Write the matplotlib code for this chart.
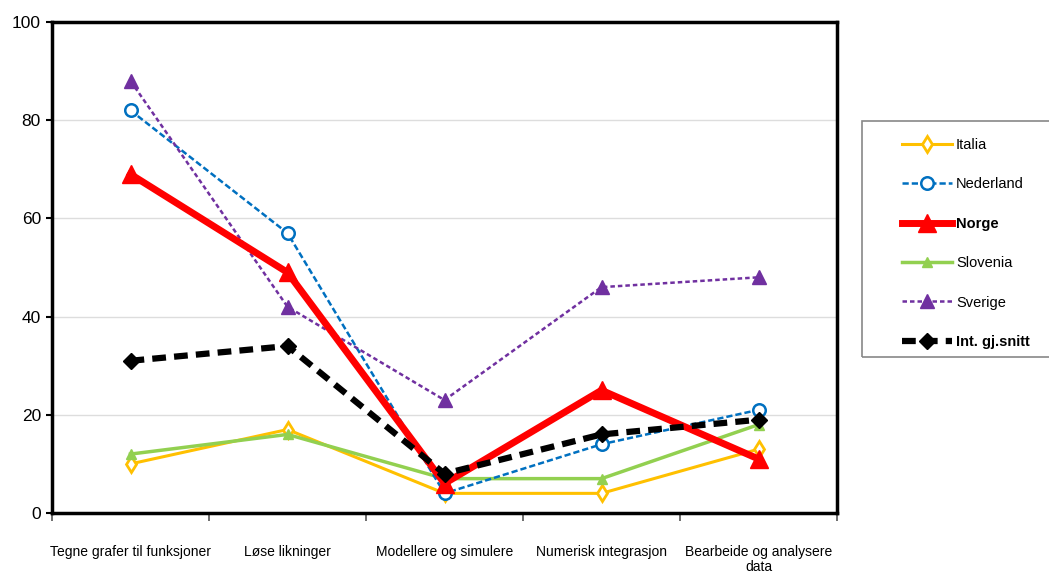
import matplotlib
matplotlib.use("Agg")
import matplotlib.pyplot as plt
from matplotlib.patches import Rectangle

categories = ["Tegne grafer til funksjoner", "Løse likninger", "Modellere og simulere",
              "Numerisk integrasjon", "Bearbeide og analysere\ndata"]
italia = [10, 17, 4, 4, 13]
nederland = [82, 57, 4, 14, 21]
norge = [69, 49, 6, 25, 11]
slovenia = [12, 16, 7, 7, 18]
sverige = [88, 42, 23, 46, 48]
snitt = [31, 34, 8, 16, 19]
y_ticks = [0, 20, 40, 60, 80, 100]

plt.rcParams["font.family"] = ["Liberation Sans", "DejaVu Sans"]

W, H = 1049, 582
fig = plt.figure(figsize=(W / 100, H / 100), dpi=100)
ax = fig.add_axes([52 / W, 1 - 513 / H, 785 / W, 491 / H])

x = list(range(len(categories)))

ax.plot(x, italia, color="#FFC000", lw=2.2, marker="d", ms=8, mfc="white",
        mec="#FFC000", mew=2, label="Italia", zorder=3)
ax.plot(x, nederland, color="#0070C0", lw=1.8, ls=(0, (2.5, 1.2)), marker="o", ms=9,
        mfc="white", mec="#0070C0", mew=1.8, label="Nederland", zorder=4)
ax.plot(x, norge, color="#FF0000", lw=5, marker="^", ms=13, mfc="#FF0000",
        mec="#FF0000", label="Norge", zorder=5)
ax.plot(x, slovenia, color="#92D050", lw=2.5, marker="^", ms=7, mfc="#92D050",
        mec="#92D050", label="Slovenia", zorder=3)
ax.plot(x, sverige, color="#7030A0", lw=1.8, ls=(0, (1.8, 1.2)), marker="^", ms=10,
        mfc="#7030A0", mec="#7030A0", label="Sverige", zorder=4)
ax.plot(x, snitt, color="black", lw=4.5, ls=(0, (2.2, 1.3)), marker="D", ms=8,
        mfc="black", mec="black", label="Int. gj.snitt", zorder=6)

ax.set_xlim(-0.5, len(categories) - 0.5)
ax.set_ylim(0, 100)
ax.set_yticks(y_ticks)
ax.set_yticklabels([str(v) for v in y_ticks], fontsize=12.5)
ax.set_xticks(x)
ax.set_xticklabels(categories, fontsize=10, linespacing=1.1)
ax.tick_params(axis="x", length=0, pad=23)
ax.set_xticks([i - 0.5 for i in range(len(categories) + 1)], minor=True)
ax.tick_params(axis="x", which="minor", length=6, width=1.2, color="#555555")
ax.tick_params(axis="y", length=4, width=1.5, pad=4)
ax.grid(axis="y", color="#DDDDDD", lw=1)
ax.set_axisbelow(True)
for s in ax.spines.values():
    s.set_linewidth(2.5)
    s.set_color("black")

# legend frame runs off the right edge of the figure
fig.patches.append(Rectangle((862 / W, 1 - 357 / H), 200 / W, 236 / H,
                             transform=fig.transFigure, fill=False,
                             edgecolor="#888888", lw=1.2))
leg = fig.legend(loc="upper left", bbox_to_anchor=(902 / W, 1 - 138 / H), frameon=False,
                 fontsize=10.5, labelspacing=1.74, handlelength=3.4,
                 handletextpad=0.3, borderpad=0, borderaxespad=0)
for t in leg.get_texts():
    if t.get_text() in ("Norge", "Int. gj.snitt"):
        t.set_fontweight("bold")

fig.savefig("out.png", dpi=100)
